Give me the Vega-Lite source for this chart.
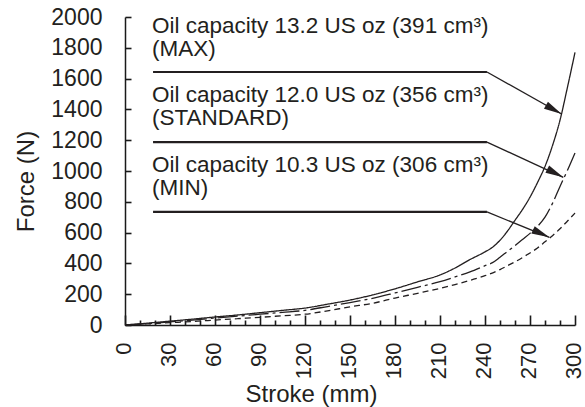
{
  "$schema": "https://vega.github.io/schema/vega-lite/v6.json",
  "width": 450,
  "height": 308,
  "autosize": "none",
  "padding": {"left": 125, "top": 17, "right": 10, "bottom": 82},
  "background": "white",
  "config": {
    "view": {"stroke": null},
    "font": "Liberation Sans",
    "axis": {
      "grid": false,
      "labelOverlap": false,
      "labelFlush": false,
      "labelColor": "#231f20",
      "titleColor": "#231f20",
      "labelFont": "Liberation Sans",
      "titleFont": "Liberation Sans",
      "labelFontSize": 23,
      "titleFontSize": 24,
      "titleFontWeight": "normal"
    }
  },
  "datasets": {
    "curves": [
      {"series": "MAX", "stroke": 0, "force": 0},
      {"series": "MAX", "stroke": 15, "force": 12},
      {"series": "MAX", "stroke": 30, "force": 25},
      {"series": "MAX", "stroke": 45, "force": 38},
      {"series": "MAX", "stroke": 60, "force": 52},
      {"series": "MAX", "stroke": 75, "force": 65},
      {"series": "MAX", "stroke": 90, "force": 80},
      {"series": "MAX", "stroke": 105, "force": 95},
      {"series": "MAX", "stroke": 120, "force": 110},
      {"series": "MAX", "stroke": 135, "force": 135},
      {"series": "MAX", "stroke": 150, "force": 162},
      {"series": "MAX", "stroke": 165, "force": 195},
      {"series": "MAX", "stroke": 180, "force": 235},
      {"series": "MAX", "stroke": 195, "force": 280},
      {"series": "MAX", "stroke": 210, "force": 325},
      {"series": "MAX", "stroke": 220, "force": 370},
      {"series": "MAX", "stroke": 230, "force": 425},
      {"series": "MAX", "stroke": 240, "force": 475},
      {"series": "MAX", "stroke": 245, "force": 505},
      {"series": "MAX", "stroke": 250, "force": 550},
      {"series": "MAX", "stroke": 255, "force": 610},
      {"series": "MAX", "stroke": 260, "force": 680},
      {"series": "MAX", "stroke": 265, "force": 750},
      {"series": "MAX", "stroke": 270, "force": 830},
      {"series": "MAX", "stroke": 275, "force": 925},
      {"series": "MAX", "stroke": 280, "force": 1030},
      {"series": "MAX", "stroke": 285, "force": 1165},
      {"series": "MAX", "stroke": 290, "force": 1330},
      {"series": "MAX", "stroke": 295, "force": 1545},
      {"series": "MAX", "stroke": 300, "force": 1770},
      {"series": "STANDARD", "stroke": 0, "force": 0},
      {"series": "STANDARD", "stroke": 15, "force": 9},
      {"series": "STANDARD", "stroke": 30, "force": 20},
      {"series": "STANDARD", "stroke": 45, "force": 32},
      {"series": "STANDARD", "stroke": 60, "force": 45},
      {"series": "STANDARD", "stroke": 75, "force": 57},
      {"series": "STANDARD", "stroke": 90, "force": 70},
      {"series": "STANDARD", "stroke": 105, "force": 82},
      {"series": "STANDARD", "stroke": 120, "force": 95},
      {"series": "STANDARD", "stroke": 135, "force": 120},
      {"series": "STANDARD", "stroke": 150, "force": 146},
      {"series": "STANDARD", "stroke": 165, "force": 173},
      {"series": "STANDARD", "stroke": 180, "force": 208},
      {"series": "STANDARD", "stroke": 195, "force": 245},
      {"series": "STANDARD", "stroke": 210, "force": 281},
      {"series": "STANDARD", "stroke": 220, "force": 312},
      {"series": "STANDARD", "stroke": 230, "force": 345},
      {"series": "STANDARD", "stroke": 240, "force": 385},
      {"series": "STANDARD", "stroke": 245, "force": 405},
      {"series": "STANDARD", "stroke": 250, "force": 440},
      {"series": "STANDARD", "stroke": 255, "force": 478},
      {"series": "STANDARD", "stroke": 260, "force": 515},
      {"series": "STANDARD", "stroke": 265, "force": 555},
      {"series": "STANDARD", "stroke": 270, "force": 595},
      {"series": "STANDARD", "stroke": 275, "force": 640},
      {"series": "STANDARD", "stroke": 280, "force": 700},
      {"series": "STANDARD", "stroke": 285, "force": 790},
      {"series": "STANDARD", "stroke": 290, "force": 900},
      {"series": "STANDARD", "stroke": 295, "force": 1005},
      {"series": "STANDARD", "stroke": 300, "force": 1117},
      {"series": "MIN", "stroke": 0, "force": 0},
      {"series": "MIN", "stroke": 15, "force": 7},
      {"series": "MIN", "stroke": 30, "force": 15},
      {"series": "MIN", "stroke": 45, "force": 23},
      {"series": "MIN", "stroke": 60, "force": 32},
      {"series": "MIN", "stroke": 75, "force": 41},
      {"series": "MIN", "stroke": 90, "force": 50},
      {"series": "MIN", "stroke": 105, "force": 60},
      {"series": "MIN", "stroke": 120, "force": 70},
      {"series": "MIN", "stroke": 135, "force": 92},
      {"series": "MIN", "stroke": 150, "force": 118},
      {"series": "MIN", "stroke": 165, "force": 141},
      {"series": "MIN", "stroke": 180, "force": 175},
      {"series": "MIN", "stroke": 195, "force": 206},
      {"series": "MIN", "stroke": 210, "force": 238},
      {"series": "MIN", "stroke": 220, "force": 262},
      {"series": "MIN", "stroke": 230, "force": 290},
      {"series": "MIN", "stroke": 240, "force": 320},
      {"series": "MIN", "stroke": 250, "force": 360},
      {"series": "MIN", "stroke": 255, "force": 385},
      {"series": "MIN", "stroke": 260, "force": 410},
      {"series": "MIN", "stroke": 265, "force": 438},
      {"series": "MIN", "stroke": 270, "force": 468},
      {"series": "MIN", "stroke": 275, "force": 500},
      {"series": "MIN", "stroke": 280, "force": 540},
      {"series": "MIN", "stroke": 285, "force": 580},
      {"series": "MIN", "stroke": 290, "force": 625},
      {"series": "MIN", "stroke": 295, "force": 675},
      {"series": "MIN", "stroke": 300, "force": 727}
    ],
    "labels": [
      {"x": 18, "y": 1898, "text": "Oil capacity 13.2 US oz (391 cm³)"},
      {"x": 18, "y": 1749, "text": "(MAX)"},
      {"x": 18, "y": 1450, "text": "Oil capacity 12.0 US oz (356 cm³)"},
      {"x": 18, "y": 1299, "text": "(STANDARD)"},
      {"x": 18, "y": 995, "text": "Oil capacity 10.3 US oz (306 cm³)"},
      {"x": 18, "y": 844, "text": "(MIN)"}
    ],
    "leaders": [
      {"series": "MAX", "x": 18.7, "x2": 241.3, "y": 1643, "tx": 291.1, "ty": 1370},
      {"series": "STANDARD", "x": 18.7, "x2": 241.3, "y": 1188, "tx": 292.2, "ty": 959},
      {"series": "MIN", "x": 18.7, "x2": 241.3, "y": 734, "tx": 282.9, "ty": 569}
    ]
  },
  "resolve": {"axis": {"x": "independent", "y": "independent"}},
  "layer": [
    {
      "data": {"name": "curves"},
      "mark": {"type": "line", "interpolate": "monotone", "color": "#231f20", "strokeWidth": 1.3},
      "encoding": {
        "x": {
          "field": "stroke", "type": "quantitative",
          "scale": {"domain": [0, 300], "nice": false},
          "axis": {
            "orient": "bottom",
            "title": "Stroke (mm)",
            "values": [0, 30, 60, 90, 120, 150, 180, 210, 240, 270, 300],
            "domainColor": "#1a1a1a",
            "domainWidth": 1.5,
            "tickColor": "#1a1a1a",
            "tickWidth": 1.6,
            "tickSize": -10,
            "labelAngle": -90,
            "labelFontSize": 22,
            "labelOffset": -2,
            "labelPadding": 27,
            "titleX": 186,
            "titleY": 76,
            "titleAlign": "center",
            "titleBaseline": "alphabetic",
            "titleAnchor": null
          }
        },
        "y": {
          "field": "force", "type": "quantitative",
          "scale": {"domain": [0, 2000], "nice": false},
          "axis": {
            "orient": "left",
            "title": "Force (N)",
            "values": [0, 200, 400, 600, 800, 1000, 1200, 1400, 1600, 1800, 2000],
            "format": "d",
            "domainColor": "#1a1a1a",
            "domainWidth": 1.5,
            "tickColor": "#1a1a1a",
            "tickWidth": 1.6,
            "tickSize": -6,
            "labelPadding": 29,
            "titleX": -92,
            "titleY": 164,
            "titleAngle": -90,
            "titleAlign": "center",
            "titleBaseline": "alphabetic"
          }
        },
        "detail": {"field": "series"},
        "strokeDash": {
          "field": "series", "type": "nominal",
          "scale": {"domain": ["MAX", "STANDARD", "MIN"], "range": [[1, 0], [20, 4, 3, 4], [6, 4]]},
          "legend": null
        }
      }
    },
    {
      "data": {"name": "leaders"},
      "mark": {"type": "rule", "color": "#231f20", "strokeWidth": 2.2},
      "encoding": {
        "x": {
          "field": "x", "type": "quantitative",
          "axis": {
            "orient": "bottom", "offset": -5, "tickSize": 5, "tickColor": "#1a1a1a", "tickWidth": 1.6,
            "domain": false, "labels": false, "title": null,
            "values": [10, 20, 40, 50, 70, 80, 100, 110, 130, 140, 160, 170, 190, 200, 220, 230, 250, 260, 280, 290]
          }
        },
        "x2": {"field": "x2"},
        "y": {"field": "y", "type": "quantitative", "axis": null}
      }
    },
    {
      "data": {"name": "leaders"},
      "mark": {"type": "rule", "color": "#231f20", "strokeWidth": 1.3},
      "encoding": {
        "x": {"field": "x2", "type": "quantitative", "axis": null},
        "x2": {"field": "tx"},
        "y": {"field": "y", "type": "quantitative", "axis": null},
        "y2": {"field": "ty"}
      }
    },
    {
      "data": {"name": "leaders"},
      "mark": {"type": "point", "filled": true, "opacity": 1, "color": "#231f20", "shape": "M0,0L-2,-0.45L-2,0.45Z", "size": 324},
      "encoding": {
        "x": {"field": "tx", "type": "quantitative", "axis": null},
        "y": {"field": "ty", "type": "quantitative", "axis": null},
        "angle": {
          "field": "series", "type": "nominal",
          "scale": {"domain": ["MAX", "STANDARD", "MIN"], "range": [29.3, 24.8, 22.1]},
          "legend": null
        }
      }
    },
    {
      "data": {"name": "labels"},
      "mark": {"type": "text", "align": "left", "baseline": "alphabetic", "fontSize": 22.5, "font": "Liberation Sans", "color": "#231f20"},
      "encoding": {
        "x": {"field": "x", "type": "quantitative", "axis": null},
        "y": {"field": "y", "type": "quantitative", "axis": null},
        "text": {"field": "text"}
      }
    }
  ]
}
